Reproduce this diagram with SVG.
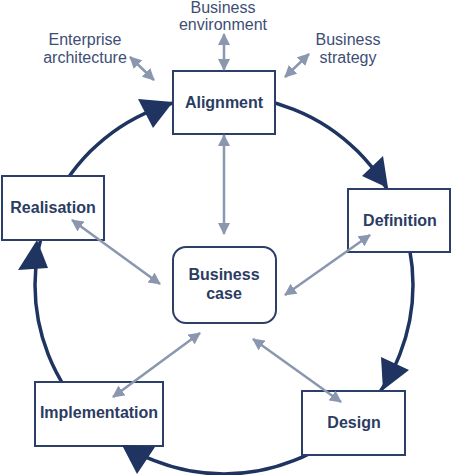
<svg xmlns="http://www.w3.org/2000/svg" width="452" height="475" viewBox="0 0 452 475">
<defs>
<style>
.box{fill:#fff;stroke:#2b3f68;stroke-width:2}
.t{font-family:"Liberation Sans",Arial,sans-serif;font-size:16px;font-weight:bold;fill:#2b3c62;text-anchor:middle}
.l{font-family:"Liberation Sans",Arial,sans-serif;font-size:16px;fill:#3d4e74;text-anchor:middle}
.g{stroke:#8a97ae;stroke-width:2.5;fill:none;marker-start:url(#ga);marker-end:url(#ga)}
.head{fill:#1f3461}
</style>
<marker id="ga" viewBox="0 0 12 12" refX="11" refY="6" markerWidth="12" markerHeight="12" markerUnits="userSpaceOnUse" orient="auto-start-reverse">
<path d="M0,0 L12,6 L0,12 Z" fill="#8a97ae"/>
</marker>
</defs>
<g id="cycle">
<circle cx="224" cy="285" r="189" fill="none" stroke="#1f3461" stroke-width="3.5"/>
</g>
<g id="alignment"><rect class="box" x="173" y="71" width="102" height="63"/><text class="t" x="224" y="108">Alignment</text></g>
<g id="definition"><rect class="box" x="348" y="189" width="102" height="63"/><text class="t" x="400" y="226">Definition</text></g>
<g id="design"><rect class="box" x="302" y="391" width="103" height="64"/><text class="t" x="354" y="428">Design</text></g>
<g id="implementation"><rect class="box" x="35" y="382" width="128" height="64"/><text class="t" x="99" y="418">Implementation</text></g>
<g id="realisation"><rect class="box" x="2" y="176" width="102" height="64"/><text class="t" x="53" y="213">Realisation</text></g>
<g id="business-case"><rect class="box" x="173" y="247" width="103" height="76" rx="13"/><text class="t" x="224" y="280">Business</text><text class="t" x="224" y="299">case</text></g>
<g id="enterprise-architecture"><text class="l" x="85" y="45">Enterprise</text><text class="l" x="85" y="63">architecture</text></g>
<g id="business-environment"><text class="l" x="223" y="12.5">Business</text><text class="l" x="223" y="30">environment</text></g>
<g id="business-strategy"><text class="l" x="348" y="45">Business</text><text class="l" x="348" y="63">strategy</text></g>
<g id="connectors">
<path class="head" d="M173,102 L138,99 L153,128 Z"/>
<path class="head" d="M388,188 L362,176 L383,156 Z"/>
<path class="head" d="M383,390 L381,357 L409,370 Z"/>
<path class="head" d="M122,445 L155,447 L137,474 Z"/>
<path class="head" d="M37,240 L18,270 L48,268 Z"/>
<line class="g" x1="130" y1="57" x2="154" y2="80"/>
<line class="g" x1="224" y1="34" x2="224" y2="70"/>
<line class="g" x1="309" y1="54" x2="285" y2="77"/>
<line class="g" x1="224" y1="135" x2="224" y2="234"/>
<line class="g" x1="72" y1="220" x2="160" y2="284"/>
<line class="g" x1="370" y1="235" x2="285" y2="295"/>
<line class="g" x1="200" y1="333" x2="113" y2="397"/>
<line class="g" x1="253" y1="339" x2="341" y2="402"/>
</g>
</svg>
